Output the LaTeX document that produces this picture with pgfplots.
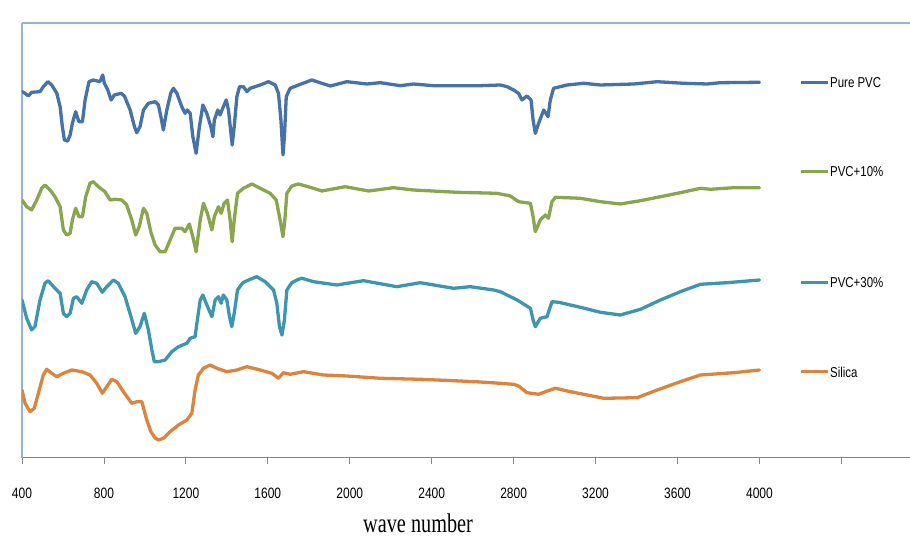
\documentclass[border=0pt]{standalone}
\usepackage{pgfplots}
\pgfplotsset{compat=1.18}
\usepackage{fontspec}
\setmainfont{Liberation Sans}
\newfontfamily\tickfont[FakeStretch=0.8]{Liberation Sans}
\newfontfamily\xlfont[FakeStretch=0.75]{Liberation Serif}
\definecolor{cblue}{HTML}{4572A7}
\definecolor{cgreen}{HTML}{89A54E}
\definecolor{cteal}{HTML}{3D96AE}
\definecolor{corange}{HTML}{DB843D}
\definecolor{lblue}{HTML}{95B3D7}
\definecolor{agray}{HTML}{868686}
\begin{document}
\begin{tikzpicture}[x=1pt,y=1pt]
\begin{axis}[
  at={(22pt,79pt)}, anchor=south west,
  scale only axis, width=888pt, height=435pt,
  xmin=400, xmax=4735, ymin=0, ymax=435,
  axis x line*=bottom, axis y line*=left,
  x axis line style={agray, line width=1pt, -},
  y axis line style={lblue, line width=1.5pt, -},
  xtick={400,800,...,4400},
  xticklabels={400,800,1200,1600,2000,2400,2800,3200,3600,4000,{}},
  ytick=\empty,
  tick align=outside, major tick length=6pt,
  x tick style={agray, line width=0.8pt},
  xticklabel style={font=\tickfont\fontsize{15}{15}\selectfont, yshift=-20pt, text=black},
  xlabel={\xlfont\fontsize{27}{27}\selectfont wave number},
  xlabel style={at={(axis description cs:0.446,-0.149)}, anchor=center},
  every axis plot/.append style={line width=3.3pt, line join=round, line cap=round, no marks},
]
\addplot[cblue] coordinates {(400,366.3) (415,364.7) (431,362) (447,365.7) (488,366.3) (504,371.3) (526,376.3) (545,373) (570,364.7) (586,351.3) (597,331.3) (607,318) (623,317) (635,323) (646,334.7) (662,346.3) (678,336.3) (695,336.3) (708,358) (727,376.3) (748,378) (781,376.3) (794,383) (802,374.7) (819,368) (835,358) (851,363) (884,364.7) (900,362) (928,348) (949,331.3) (960,325.3) (976,331.3) (993,348) (1017,354.7) (1050,356.3) (1066,353) (1078,341.3) (1090,328) (1107,348) (1126,364.7) (1139,369.7) (1156,364.7) (1180,351.3) (1196,344.7) (1207,348) (1221,344.7) (1234,321.3) (1250,304.7) (1266,331.3) (1283,353) (1302,344.7) (1322,331.3) (1332,321.3) (1339,338) (1356,348) (1367,343) (1383,351.3) (1397,358) (1408,348) (1420,324.7) (1426,313) (1436,331.3) (1449,361.3) (1462,371.3) (1481,371.3) (1498,366.3) (1514,369.7) (1563,373) (1603,376.3) (1636,373) (1652,364.7) (1664,338) (1674,303) (1681,321.3) (1690,361.3) (1709,369.7) (1750,373) (1815,378) (1864,374.7) (1905,372) (1986,376.3) (2084,374) (2149,375.3) (2247,372.3) (2311,374) (2409,372.3) (2637,372.3) (2735,373) (2768,371.3) (2800,368) (2824,364.7) (2841,358) (2865,362) (2885,358) (2895,338) (2906,324.7) (2922,334.7) (2947,348) (2968,341.3) (2979,358) (2995,369.7) (3061,373) (3142,374.7) (3224,373) (3386,374) (3501,376.3) (3630,374.7) (3745,374) (3810,375.3) (4000,375.7)};
\addplot[cgreen] coordinates {(400,258) (423,251.3) (447,248) (472,258) (496,269.7) (512,273) (537,268) (561,261.3) (586,251.3) (602,228) (618,223) (635,224.7) (646,238) (662,249.7) (678,241.3) (695,241.3) (711,261.3) (732,274.7) (748,276.3) (773,271.3) (805,266.3) (830,258) (854,258.7) (887,258) (911,253) (936,238) (955,223) (972,231.3) (993,249.7) (1009,244.7) (1030,225) (1050,213) (1074,206.3) (1099,206.3) (1123,218) (1147,229.7) (1180,229.7) (1196,226.3) (1217,234) (1234,221.3) (1250,206.3) (1270,238) (1286,254.7) (1305,244.7) (1327,228) (1339,241.3) (1359,251.3) (1372,244.7) (1387,254.7) (1403,258) (1416,238) (1426,216.3) (1436,238) (1452,264.7) (1481,269.7) (1522,274) (1563,269.7) (1611,264.7) (1641,258) (1660,238) (1674,221.3) (1683,238) (1693,264.7) (1717,272) (1750,274) (1823,269.7) (1864,267) (1978,271.3) (2092,267) (2214,270.3) (2311,268) (2524,265.7) (2719,264.7) (2784,262) (2824,256.3) (2882,254.7) (2895,241.3) (2906,226.3) (2930,238) (2955,243) (2970,239.7) (2987,256.3) (3004,260.7) (3126,259.7) (3224,256.3) (3321,254) (3419,257.3) (3517,261.3) (3614,265.3) (3712,269.7) (3761,268.7) (3875,270.3) (4000,270.3)};
\addplot[cteal] coordinates {(400,158) (423,139.7) (447,128) (463,131.3) (488,158) (512,174.7) (528,177.3) (561,169.7) (586,164.7) (602,144.7) (618,141.3) (635,144.7) (651,159.7) (667,161.3) (692,154.7) (716,168) (740,176.3) (765,174.7) (792,165.7) (814,171.3) (846,178) (870,174.7) (903,161.3) (932,141.3) (955,124.7) (976,131.3) (997,144.7) (1017,128) (1034,108) (1046,96.3) (1066,96.3) (1099,98) (1131,106.3) (1164,111.3) (1205,114.7) (1221,119.7) (1245,121.3) (1256,138) (1270,158) (1283,163) (1299,154.7) (1327,141.3) (1343,158) (1359,161.3) (1372,154.7) (1383,163) (1400,158) (1413,141.3) (1424,131.3) (1436,144.7) (1452,168) (1478,175.3) (1514,178.7) (1546,181.3) (1587,176.3) (1628,168) (1644,154.7) (1657,131.3) (1669,123) (1681,138) (1693,168) (1717,175.3) (1750,178.7) (1766,179.7) (1823,176.3) (1937,173) (2067,177.3) (2230,171.3) (2344,175.3) (2507,169.7) (2588,171.3) (2702,168) (2735,166.3) (2817,158) (2882,149.7) (2895,138) (2906,131.3) (2930,139.7) (2963,141.3) (2987,156.3) (3020,155.7) (3126,150.7) (3224,145.7) (3321,143) (3419,148.7) (3517,158) (3614,166.3) (3712,173.7) (3842,175.3) (4000,178)};
\addplot[corange] coordinates {(400,68) (415,54.7) (439,46.3) (460,49.7) (480,64.7) (504,83) (521,88.7) (545,84.7) (570,81.3) (602,84.7) (643,88) (692,86.3) (732,83) (765,74.7) (792,64.7) (814,71.3) (838,78.7) (863,76.3) (895,66.3) (936,54.7) (960,56.3) (985,56.3) (1009,38) (1030,26) (1050,20) (1066,18) (1090,19.7) (1123,26.3) (1164,33) (1205,38) (1229,44.7) (1245,68) (1261,83) (1286,89.7) (1318,93) (1351,89.7) (1400,86.3) (1449,88) (1498,91.3) (1563,88) (1620,84.7) (1652,79.7) (1676,85.3) (1709,83.7) (1774,86.3) (1872,83) (1986,82) (2149,79.7) (2344,78.7) (2507,77.3) (2637,76) (2735,74.7) (2800,73.7) (2824,72) (2865,65.3) (2922,63.7) (2955,66.3) (3004,69.7) (3077,66.3) (3159,63) (3240,59.7) (3403,60.3) (3501,68) (3614,76.3) (3712,83) (3875,85.3) (4000,88)};
\draw[lblue, line width=1.5pt] (rel axis cs:0,1) -- (rel axis cs:1,1);
\end{axis}
\begin{scope}[font=\tickfont\fontsize{14.3}{14.3}\selectfont]
\draw[cblue, line width=3pt] (801pt,454pt) -- (828pt,454pt);
\node[anchor=west, inner sep=0pt] at (830pt,454pt) {Pure PVC};
\draw[cgreen, line width=3pt] (801pt,365pt) -- (828pt,365pt);
\node[anchor=west, inner sep=0pt] at (830pt,365pt) {PVC+10\%};
\draw[cteal, line width=3pt] (801pt,254pt) -- (828pt,254pt);
\node[anchor=west, inner sep=0pt] at (830pt,254pt) {PVC+30\%};
\draw[corange, line width=3pt] (801pt,165pt) -- (828pt,165pt);
\node[anchor=west, inner sep=0pt] at (830pt,165pt) {Silica};
\end{scope}
\pgfresetboundingbox
\useasboundingbox (0pt,0pt) rectangle (910pt,537pt);
\end{tikzpicture}
\end{document}
